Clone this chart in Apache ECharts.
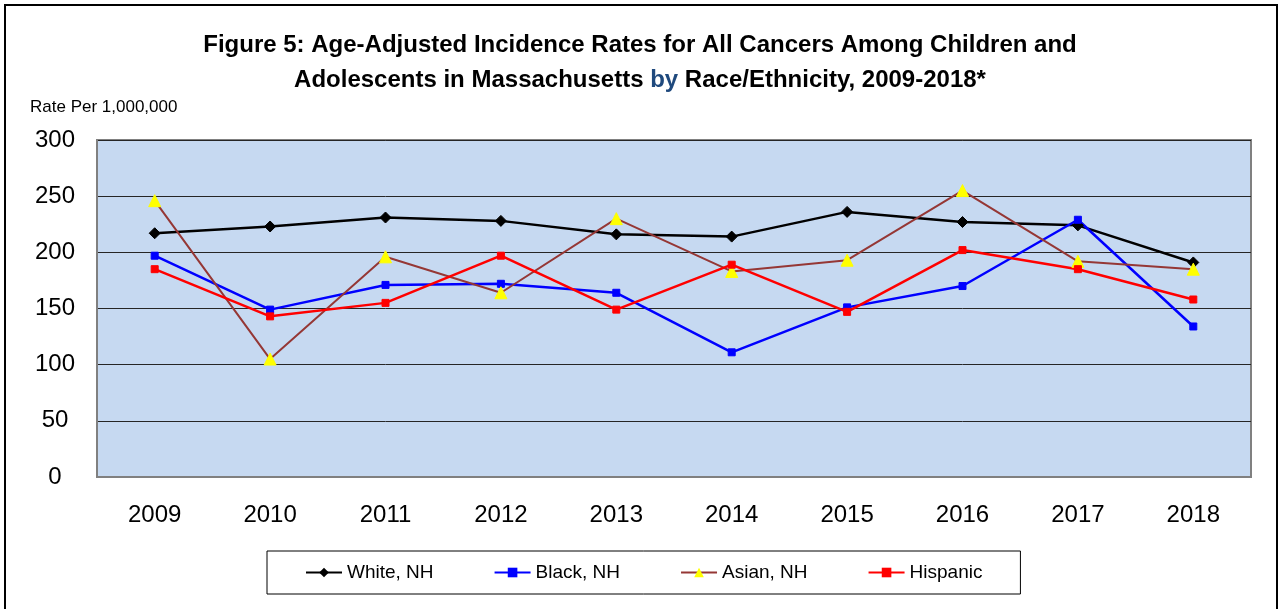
<!DOCTYPE html>
<html>
<head>
<meta charset="utf-8">
<script src="https://cdn.jsdelivr.net/npm/echarts@6/dist/echarts.min.js"></script>
<style>
html, body { margin: 0; padding: 0; background: #fff; }
#frame { position: absolute; left: 4px; top: 4px; width: 1270px; height: 640px; border: 2px solid #000; }
#chart { position: absolute; left: 0; top: 0; width: 1280px; height: 609px; }
</style>
</head>
<body>
<div id="frame"></div>
<div id="chart"></div>
<script>
var years = ['2009', '2010', '2011', '2012', '2013', '2014', '2015', '2016', '2017', '2018'];
var white = [217, 223, 231, 228, 216, 214, 236, 227, 224, 191];
var black = [197, 149, 171, 172, 164, 111, 151, 170, 229, 134];
var asian = [246, 105, 196, 164, 230, 183, 193, 255, 192, 185];
var hispanic = [185, 143, 155, 197, 149, 189, 147, 202, 185, 158];

var myChart = echarts.init(document.getElementById('chart'));
var font = '"Liberation Sans", Arial, sans-serif';

function line(name, data, color, symbol, symbolColor, size, width) {
    return {
        name: name,
        type: 'line',
        data: data,
        symbol: symbol,
        symbolSize: size,
        animation: false,
        lineStyle: { color: color, width: width },
        itemStyle: { color: symbolColor, borderColor: symbolColor },
        emphasis: { disabled: true }
    };
}

var option = {
    animation: false,
    title: {
        text: 'Figure 5: Age-Adjusted Incidence Rates for All Cancers Among Children and\nAdolescents in Massachusetts {b|by} Race/Ethnicity, 2009-2018*',
        left: 'center',
        top: 23,
        textStyle: {
            fontFamily: font,
            fontWeight: 'bold',
            fontSize: 24,
            color: '#000',
            lineHeight: 35,
            rich: {
                b: { color: '#1F497D', fontWeight: 'bold', fontSize: 24, fontFamily: font }
            }
        }
    },
    grid: {
        left: 97,
        right: 29,
        top: 140,
        bottom: 132,
        show: true,
        backgroundColor: '#C6D9F1',
        borderColor: '#808080',
        borderWidth: 2
    },
    legend: {
        left: 267,
        top: 551,
        padding: [12, 38, 12, 38],
        borderColor: '#000',
        borderWidth: 1,
        itemGap: 60,
        itemWidth: 36,
        itemHeight: 12,
        textStyle: { fontFamily: font, fontSize: 19, color: '#000' },
        data: ['White, NH', 'Black, NH', 'Asian, NH', 'Hispanic']
    },
    xAxis: {
        type: 'category',
        data: years,
        boundaryGap: true,
        axisLine: { lineStyle: { color: '#808080', width: 2 } },
        axisTick: { show: false },
        axisLabel: { fontFamily: font, fontSize: 24, color: '#000', margin: 26 }
    },
    yAxis: {
        type: 'value',
        min: 0,
        max: 300,
        interval: 50,
        name: 'Rate Per 1,000,000',
        nameLocation: 'end',
        nameGap: 24,
        nameTextStyle: { fontFamily: font, fontSize: 17, color: '#000', align: 'left', padding: [0, 0, 0, -67] },
        axisLine: { show: true, lineStyle: { color: '#808080', width: 2 } },
        axisTick: { show: false },
        axisLabel: { fontFamily: font, fontSize: 24, color: '#000', margin: 42, align: 'center' },
        splitLine: { lineStyle: { color: '#262626', width: 1 } }
    },
    series: [
        line('White, NH', white, '#000000', 'diamond', '#000000', 11, 2.5),
        line('Black, NH', black, '#0000FF', 'rect', '#0000FF', 7, 2.5),
        line('Asian, NH', asian, '#953735', 'triangle', '#FFFF00', 12, 2),
        line('Hispanic', hispanic, '#FF0000', 'rect', '#FF0000', 7, 2.5)
    ]
};
myChart.setOption(option);
</script>
</body>
</html>
